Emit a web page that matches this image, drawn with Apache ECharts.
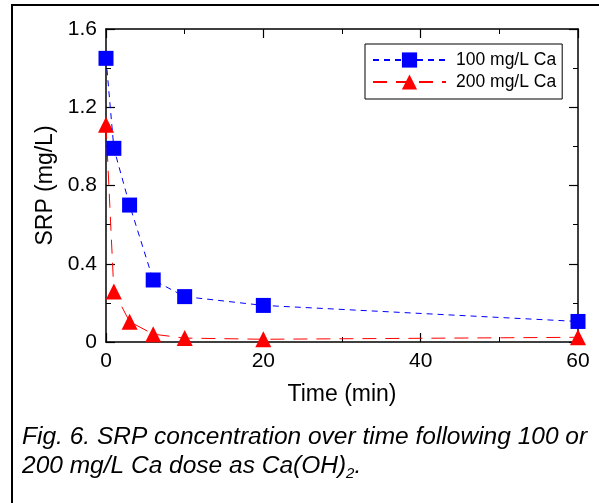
<!DOCTYPE html>
<html>
<head>
<meta charset="utf-8">
<script src="https://cdn.jsdelivr.net/npm/echarts@6/dist/echarts.min.js"></script>
<style>html,body{margin:0;padding:0;background:#fff}#c{width:599px;height:503px}</style>
</head>
<body>
<div id="c"></div>
<script>
var times = [0, 1, 3, 6, 10, 20, 60];
var ca100 = [1.45, 0.99, 0.70, 0.317, 0.232, 0.187, 0.105];
var ca200 = [1.11, 0.258, 0.104, 0.04, 0.02, 0.014, 0.024];
var seriesNames = ['100 mg/L Ca', '200 mg/L Ca'];
var xTicks = [0, 20, 40, 60];
var yTicks = [0, 0.4, 0.8, 1.2, 1.6];

function pairs(v){ return times.map(function(t,i){ return [t, v[i]]; }); }
var F = '"Liberation Sans", Arial, sans-serif';
var chart = echarts.init(document.getElementById('c'), null, {renderer:'canvas'});
var axLine = {show:true, onZero:false, lineStyle:{color:'#000', width:1.5}};
var tick = {show:true, inside:true, length:9, lineStyle:{color:'#000', width:1.2}};
var minor = {show:true, splitNumber:2, length:5, lineStyle:{color:'#000', width:1}};
chart.setOption({
  animation:false,
  backgroundColor:'#fff',
  grid:{left:106, top:29, right:21, bottom:161},
  legend:{
    left:365, top:44, orient:'vertical',
    padding:[7,6,8,7], itemGap:4, itemWidth:73, itemHeight:19,
    borderColor:'#000', borderWidth:1, backgroundColor:'#fff',
    textStyle:{fontFamily:F, fontSize:17.5, color:'#000', padding:[0,0,0,5]},
    data:seriesNames
  },
  xAxis:[{
    type:'value', min:xTicks[0], max:xTicks[xTicks.length-1], interval:20,
    name:'Time (min)', nameLocation:'middle', nameGap:41,
    nameTextStyle:{fontFamily:F, fontSize:23, color:'#000'},
    axisLine:axLine, axisTick:tick, minorTick:minor, splitLine:{show:false},
    axisLabel:{fontFamily:F, fontSize:21, color:'#000', margin:9}
  },{
    type:'value', position:'top', min:0, max:60, interval:20,
    axisLine:axLine, axisTick:tick, minorTick:minor, splitLine:{show:false},
    axisLabel:{show:false}
  }],
  yAxis:[{
    type:'value', min:yTicks[0], max:yTicks[yTicks.length-1], interval:0.4,
    name:'SRP (mg/L)', nameLocation:'middle', nameGap:47,
    nameTextStyle:{fontFamily:F, fontSize:23, color:'#000'},
    axisLine:axLine, axisTick:tick, minorTick:minor, splitLine:{show:false},
    axisLabel:{fontFamily:F, fontSize:21, color:'#000', margin:9,
      formatter:function(v){ return v===0 ? '0' : v.toFixed(1); }}
  },{
    type:'value', position:'right', min:0, max:1.6, interval:0.4,
    axisLine:axLine, axisTick:tick, minorTick:minor, splitLine:{show:false},
    axisLabel:{show:false}
  }],
  series:[{
    name:seriesNames[0], type:'line', data:pairs(ca100),
    symbol:'rect', symbolSize:15, itemStyle:{color:'#0000ff'},
    lineStyle:{color:'#0000ff', width:1, type:[6,5]}, z:3
  },{
    name:seriesNames[1], type:'line', data:pairs(ca200),
    symbol:'triangle', symbolSize:16, itemStyle:{color:'#ff0000'},
    lineStyle:{color:'#ff0000', width:1, type:[14,9]}, z:2
  }],
  graphic:[
    {type:'rect', shape:{x:12, y:5, width:620, height:540}, style:{fill:null, stroke:'#000', lineWidth:2}, silent:true},
    {type:'text', left:22, top:423, style:{
      text:'Fig. 6. SRP concentration over time following 100 or\n200 mg/L Ca dose as Ca(OH){s|2}.',
      rich:{s:{fontFamily:F, fontStyle:'italic', fontSize:15, verticalAlign:'bottom', padding:[9,0,0,0]}},
      font:'italic 24.5px '+F, fill:'#000', lineHeight:29}}
  ]
});
</script>
</body>
</html>
